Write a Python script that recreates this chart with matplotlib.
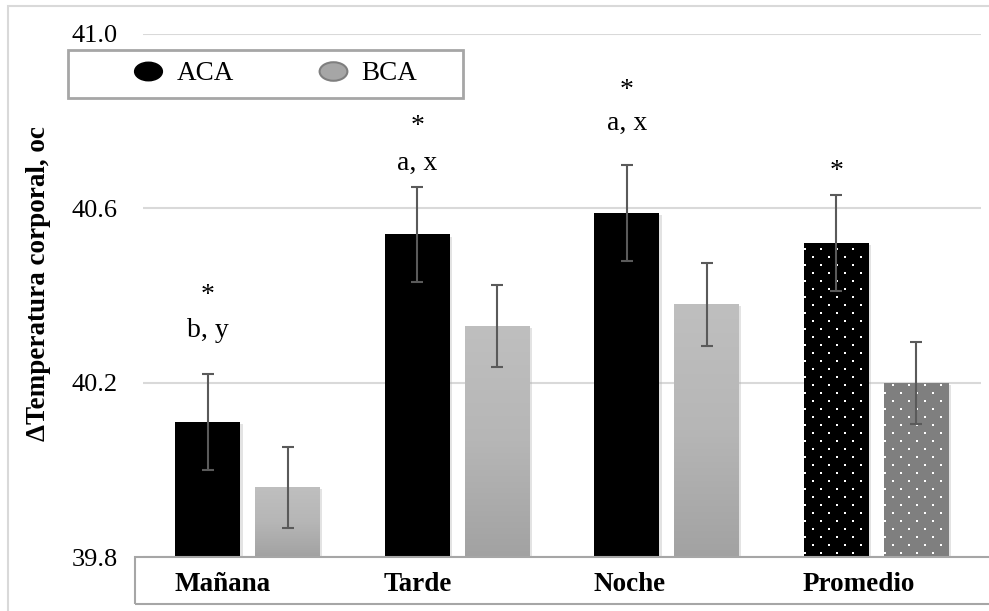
import numpy as np
import matplotlib
matplotlib.use("Agg")
from matplotlib import pyplot as plt
from matplotlib import patheffects as pe
from matplotlib.colors import LinearSegmentedColormap
from matplotlib.lines import Line2D
from matplotlib.patches import Rectangle
from matplotlib.path import Path

categories = ["Mañana", "Tarde", "Noche", "Promedio"]
aca = [40.11, 40.54, 40.59, 40.52]
bca = [39.96, 40.33, 40.38, 40.20]
aca_err = [0.11, 0.11, 0.11, 0.11]
bca_err = [0.093, 0.094, 0.095, 0.094]
# significance marks above the ACA bars (baseline, data units)
stars = ["*", "*", "*", "*"]
star_y = [40.384, 40.773, 40.856, 40.670]
letters = ["b, y", "a, x", "a, x", ""]
letter_y = [40.305, 40.688, 40.780, 40.6]
yticks = [39.8, 40.2, 40.6, 41.0]


def dot_texture(ax, patch):
    # white dot pattern inside a bar, on a pixel grid (16 px across, 8 px down, staggered)
    tr = ax.transData
    (x0, y0), (x1, y1) = tr.transform([(patch.get_x(), patch.get_y()),
                                       (patch.get_x() + patch.get_width(), patch.get_y() + patch.get_height())])
    pts = []
    for r, yy in enumerate(np.arange(y0 + 4, y1, 8)):
        start = x0 + 1 + (8 if r % 2 else 0)
        for xx in np.arange(start, x1, 16):
            pts.append((xx, yy))
    pts = tr.inverted().transform(np.array(pts))
    sc = ax.scatter(pts[:, 0], pts[:, 1], s=3.2, marker='s', color='white', lw=0, zorder=3)
    sc.set_clip_path(patch)


def main():
    plt.rcParams['font.family'] = ['Liberation Serif', 'DejaVu Serif']

    fig = plt.figure(figsize=(9.89, 6.11), dpi=100)
    ax = fig.add_axes([143 / 989, 54 / 611, 838 / 989, 523 / 611])

    x = np.arange(len(categories))
    w = 0.31
    off = 0.19
    base = yticks[0]
    ax.set_xlim(-0.5, len(categories) - 0.5)
    ax.set_ylim(yticks[0], yticks[-1])
    shadow = [pe.SimplePatchShadow(offset=(1.5, -1.5), shadow_rgbFace='#b0b0b0', alpha=0.35), pe.Normal()]

    b1 = ax.bar(x - off, np.array(aca) - base, bottom=base, width=w, color='black', zorder=2)
    b2 = ax.bar(x + off, np.array(bca) - base, bottom=base, width=w, color='#b3b3b3', zorder=2)
    for p in list(b1) + list(b2):
        p.set_path_effects(shadow)

    # gradient fill for the light gray bars
    cmap = LinearSegmentedColormap.from_list("g", ["#a2a2a2", "#b6b6b6", "#bfbfbf"])
    grad = np.linspace(0, 1, 256).reshape(-1, 1)
    for p in list(b2)[:-1]:
        x0, y0 = p.get_x(), p.get_y()
        ax.imshow(grad, cmap=cmap, origin='lower', aspect='auto', zorder=2.5,
                  extent=(x0, x0 + p.get_width(), y0, y0 + p.get_height()))
    ax.set_xlim(-0.5, len(categories) - 0.5)
    ax.set_ylim(yticks[0], yticks[-1])

    # dotted "Promedio" bars
    b2[-1].set_facecolor('#7f7f7f')
    dot_texture(ax, b1[-1])
    dot_texture(ax, b2[-1])

    ekw = dict(fmt='none', ecolor='#5a5a5a', elinewidth=1.5, capsize=4.5, capthick=1.5, zorder=4)
    ax.errorbar(x - off, aca, yerr=aca_err, **ekw)
    ax.errorbar(x + off, bca, yerr=bca_err, **ekw)

    for i in range(len(categories)):
        ax.text(x[i] - off, star_y[i], stars[i], ha='center', va='baseline', fontsize=20)
        if letters[i]:
            ax.text(x[i] - off, letter_y[i], letters[i], ha='center', va='baseline', fontsize=20)

    ax.set_yticks(yticks)
    ax.set_yticklabels([f"{t:.1f}" for t in yticks], fontsize=19)
    ax.yaxis.grid(True, color='#d9d9d9', lw=1.5)
    ax.set_axisbelow(True)
    ax.tick_params(axis='y', length=0, pad=18)
    ax.set_xticks(x - off - 0.16)
    ax.set_xticklabels(categories, fontsize=19.5, fontweight='bold', ha='left')
    ax.tick_params(axis='x', length=0, pad=11)
    for s in ax.spines.values():
        s.set_visible(False)

    ax.set_ylabel("ΔTemperatura corporal, oc", fontsize=19.5, fontweight='bold')
    ax.yaxis.set_label_coords(-0.11, 0.522)

    # category box under the plot and the outer chart border
    fig.add_artist(Rectangle((135 / 989, 7 / 611), 1, 47 / 611, transform=fig.transFigure,
                             fill=False, ec='#a6a6a6', lw=1.5, zorder=3))
    fig.add_artist(Rectangle((8 / 989, -0.02), 1, 1 - 6 / 611 + 0.02, transform=fig.transFigure,
                             fill=False, ec='#d9d9d9', lw=1.5, zorder=3))

    # legend in its own box
    lx, ly, lw_, lh = 68 / 989, 513 / 611, 395 / 989, 48 / 611
    fig.add_artist(Rectangle((lx, ly), lw_, lh, transform=fig.transFigure,
                             fc='white', ec='#a6a6a6', lw=2, zorder=4))
    circ = Path.unit_circle()
    ell = Path(circ.vertices * [1.5, 1.0], circ.codes)
    handles = [Line2D([0], [0], ls='none', marker=ell, markersize=20, mfc='black', mec='black', label='ACA'),
               Line2D([0], [0], ls='none', marker=ell, markersize=20, mfc='#a6a6a6', mec='#7f7f7f',
                      mew=1.5, label='BCA')]
    leg = fig.legend(handles=handles, loc='center', bbox_to_anchor=(lx + lw_ / 2 + 0.01, ly + lh / 2),
                     ncol=2, frameon=False, fontsize=19.5, handlelength=1.1, handletextpad=0.5,
                     columnspacing=3.1)
    leg.set_zorder(5)

    fig.savefig("out.png", dpi=100)


if __name__ == '__main__':
    main()
